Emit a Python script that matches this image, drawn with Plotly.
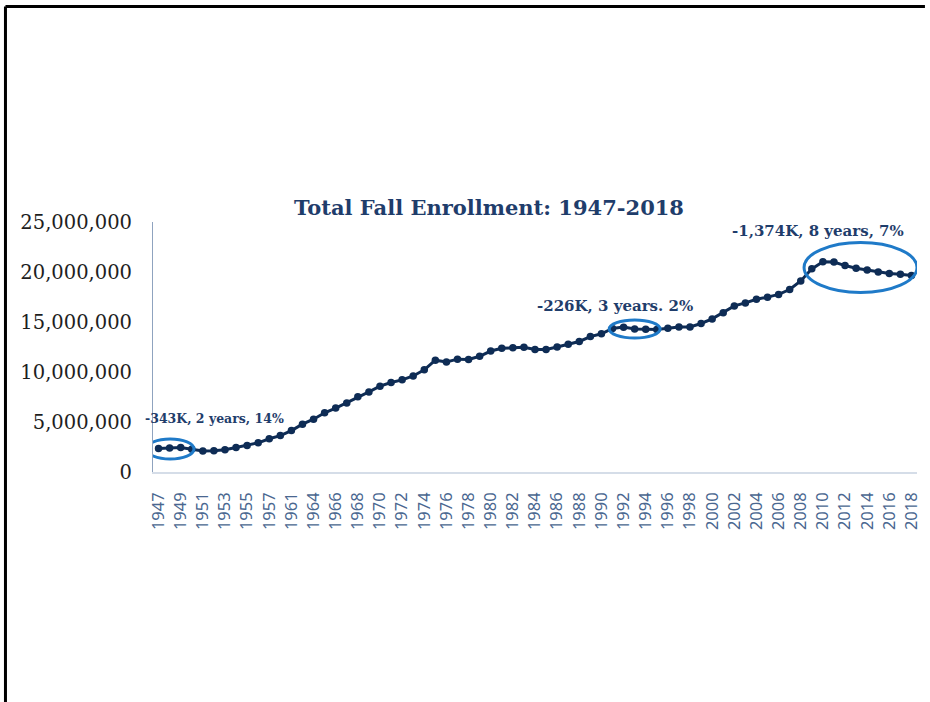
import plotly.graph_objects as go

years = [1947, 1948, 1949, 1950, 1951, 1952, 1953, 1954, 1955, 1956, 1957, 1959,
         1961, 1963] + list(range(1964, 2019))
enrollment = [2338226, 2403396, 2444900, 2281298, 2101962, 2134242, 2231054, 2446693,
              2653034, 2918212, 3323783, 3639847, 4145065, 4779609,
              5280020, 5920864, 6389872, 6911748, 7513091, 8004660, 8580887, 8948644,
              9214860, 9602123, 10223729, 11184859, 11012137, 11285787, 11260092,
              11569899, 12096895, 12371672, 12425780, 12464661, 12241940, 12247055,
              12503511, 12766642, 13055337, 13538560, 13818637, 14358953, 14487359,
              14304803, 14278790, 14261781, 14367520, 14502334, 14506967, 14849691,
              15312289, 15927987, 16611711, 16911481, 17272044, 17487475, 17758870,
              18248128, 19102814, 20313594, 21019438, 20994113, 20642819, 20376677,
              20209092, 19988204, 19846904, 19778151, 19651412]
categories = [str(y) for y in years]
tick_labels = categories[::2]
y_ticks = [0, 5000000, 10000000, 15000000, 20000000, 25000000]
y_tick_text = ["0", "5,000,000", "10,000,000", "15,000,000", "20,000,000", "25,000,000"]
title_text = "Total Fall Enrollment: 1947-2018"
notes = ["-343K, 2 years, 14%", "-226K, 3 years. 2%", "-1,374K, 8 years, 7%"]

navy = "#0E2C55"
ring = "#1F7AC8"
serif = "DejaVu Serif"

W, H = 930, 702
L, R, T, B = 153, 8, 222, 230
pw, ph = W - L - R, H - T - B

fig = go.Figure()
fig.add_trace(go.Scatter(
    x=categories, y=enrollment, mode="lines+markers",
    line=dict(color=navy, width=3),
    marker=dict(color=navy, size=7.5),
    showlegend=False, hoverinfo="x+y",
))

fig.update_layout(
    width=W, height=H,
    paper_bgcolor="white", plot_bgcolor="white",
    margin=dict(l=L, r=R, t=T, b=B),
    title=dict(text="<b>" + title_text + "</b>", x=489 / W, xanchor="center",
               y=1 - 208 / H, yanchor="middle",
               font=dict(family=serif, size=21, color="#1F3D6B")),
    xaxis=dict(type="category", categoryorder="array", categoryarray=categories,
               range=[-0.5, len(categories) - 0.5],
               tickmode="array", tickvals=tick_labels, ticktext=tick_labels,
               tickangle=-90, showgrid=False, zeroline=False,
               showline=True, linecolor="#D5DDE8", linewidth=1.5,
               ticks="", ticklabelstandoff=12,
               tickfont=dict(family="Noto Sans", size=16.5, color="#4A6790")),
    yaxis=dict(range=[0, 25000000], tickmode="array", tickvals=y_ticks,
               ticktext=y_tick_text, showgrid=False, zeroline=False,
               showline=True, linecolor="#8FA3BF", linewidth=1.2, ticks="",
               ticklabelstandoff=16,
               tickfont=dict(family=serif, size=19.5, color="#1E1E1E")),
)

# frame lines (top and left)
top_y = 1 + (T - 6.5) / ph
left_x = -(L - 4.5) / pw
fig.add_shape(type="line", xref="paper", yref="paper", x0=left_x, x1=1 + R / pw,
              y0=top_y, y1=top_y, line=dict(color="black", width=3))
fig.add_shape(type="line", xref="paper", yref="paper", x0=left_x, x1=left_x,
              y0=top_y, y1=-B / ph, line=dict(color="black", width=3))

# rings around declines
rings = [(-1.1, 3.2, 1300000, 3300000), (40.7, 45.3, 13400000, 15200000),
         (58.3, 68.5, 17950000, 22950000)]
for x0, x1, y0, y1 in rings:
    fig.add_shape(type="circle", xref="x", yref="y", x0=x0, x1=x1, y0=y0, y1=y1,
                  line=dict(color=ring, width=3))

note_pos = [((143 - L) / pw, 5400000, "left", 12.5), ((618 - L) / pw, 16600000, "center", 15),
            ((822.5 - L) / pw, 24100000, "center", 15)]
for txt, (xp, yp, anc, fs) in zip(notes, note_pos):
    fig.add_annotation(x=xp, y=yp, xref="paper", yref="y", text="<b>" + txt + "</b>",
                       showarrow=False, xanchor=anc, yanchor="middle",
                       font=dict(family=serif, size=fs, color="#1F3D6B"))

fig.write_html("out.html", config={"displayModeBar": False},
               post_script="document.body.style.margin='0';document.body.style.overflow='hidden';")
